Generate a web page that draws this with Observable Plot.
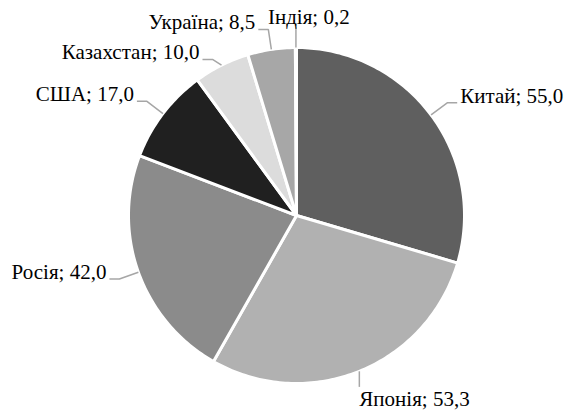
<!DOCTYPE html>
<html><head><meta charset="utf-8">
<script src="https://cdn.jsdelivr.net/npm/d3@7"></script>
<script src="https://cdn.jsdelivr.net/npm/@observablehq/plot@0.6"></script>
<style>html,body{margin:0;padding:0;background:#fff;}</style>
</head><body><div id="chart"></div>
<script>
const categories = ["Китай", "Японія", "Росія", "США", "Казахстан", "Україна", "Індія"];
const values = [55.0, 53.3, 42.0, 17.0, 10.0, 8.5, 0.2];
const colors = ["#5f5f5f", "#b1b1b1", "#8b8b8b", "#202020", "#dcdcdc", "#a7a7a7", "#7f7f7f"];

const W = 573, H = 410, R = 168, CX = 296, CY = 215;
const fmt = v => d3.format(".1f")(v).replace(".", ",");

const arcs = d3.pie().sort(null).value(d => d)(values);

const poly = [];
arcs.forEach((a, i) => {
  const cat = categories[i];
  poly.push({cat, x: 0, y: 0});
  const n = Math.max(2, Math.ceil((a.endAngle - a.startAngle) / (Math.PI / 180)));
  for (let k = 0; k <= n; k++) {
    const t = a.startAngle + (a.endAngle - a.startAngle) * k / n;
    poly.push({cat, x: R * Math.sin(t), y: R * Math.cos(t)});
  }
  poly.push({cat, x: 0, y: 0});
});

// label layout: elbow on the mid-angle ray, then a short horizontal run
const items = arcs.map((a, i) => {
  const m = (a.startAngle + a.endAngle) / 2;
  const s = Math.sin(m), c = Math.cos(m);
  const k = 1.12;
  const E = {x: R * s, y: R * c};
  let pos, B;
  if (c > 0 && Math.abs(s) < 0.05) { pos = "top"; B = {x: E.x, y: R * k * c}; }
  else if (c < 0 && Math.abs(s) < 0.45) { pos = "bottom"; B = {x: E.x, y: R * 1.1 * c}; }
  else { pos = s > 0 ? "right" : "left"; B = {x: R * k * s, y: R * k * c}; }
  return {cat: categories[i], text: `${categories[i]}; ${fmt(values[i])}`, E, B, pos};
});
// avoid overlaps between stacked side labels
for (const side of ["left", "right"]) {
  const g = items.filter(d => d.pos === side).sort((a, b) => b.B.y - a.B.y);
  for (let j = 1; j < g.length; j++) {
    if (g[j - 1].B.y - g[j].B.y < 30) g[j].B = {x: g[j].B.x, y: g[j - 1].B.y - 30};
  }
}
const leaders = [], labels = [];
for (const d of items) {
  const {E, B, pos, text, cat} = d;
  let end, lab;
  if (pos === "top") { end = B; lab = {x: B.x - 28, y: B.y + 3, text, pos}; }
  else if (pos === "bottom") { end = B; lab = {x: B.x, y: B.y - 4, text, pos}; }
  else if (pos === "right") { end = {x: B.x + 10, y: B.y}; lab = {x: B.x + 13, y: B.y, text, pos}; }
  else { end = {x: B.x - 10, y: B.y}; lab = {x: B.x - 13, y: B.y, text, pos}; }
  leaders.push({cat, x: E.x, y: E.y}, {cat, x: B.x, y: B.y}, {cat, x: end.x, y: end.y});
  labels.push(lab);
}

const font = "'Liberation Serif', 'Times New Roman', serif";
const tOpts = {x: "x", y: "y", text: "text", fill: "#000", fontSize: 21, fontFamily: font};
const chart = Plot.plot({
  width: W, height: H,
  margin: 0,
  x: {domain: [-CX, W - CX], axis: null},
  y: {domain: [-(H - CY), CY], axis: null},
  color: {domain: categories, range: colors},
  style: {background: "#fff", fontFamily: font, fontSize: "21px"},
  marks: [
    Plot.line(poly, {x: "x", y: "y", z: "cat", fill: "cat", stroke: "white", strokeWidth: 3, curve: "linear"}),
    Plot.line(leaders, {x: "x", y: "y", z: "cat", stroke: "#a6a6a6", strokeWidth: 1.5, strokeLinecap: "butt", strokeLinejoin: "miter"}),
    Plot.text(labels.filter(d => d.pos === "right"), {...tOpts, textAnchor: "start", lineAnchor: "bottom"}),
    Plot.text(labels.filter(d => d.pos === "left"), {...tOpts, textAnchor: "end", lineAnchor: "bottom"}),
    Plot.text(labels.filter(d => d.pos === "bottom"), {...tOpts, textAnchor: "start", lineAnchor: "top"}),
    Plot.text(labels.filter(d => d.pos === "top"), {...tOpts, textAnchor: "start", lineAnchor: "bottom"})
  ]
});
document.getElementById("chart").appendChild(chart);
</script>
</body></html>
